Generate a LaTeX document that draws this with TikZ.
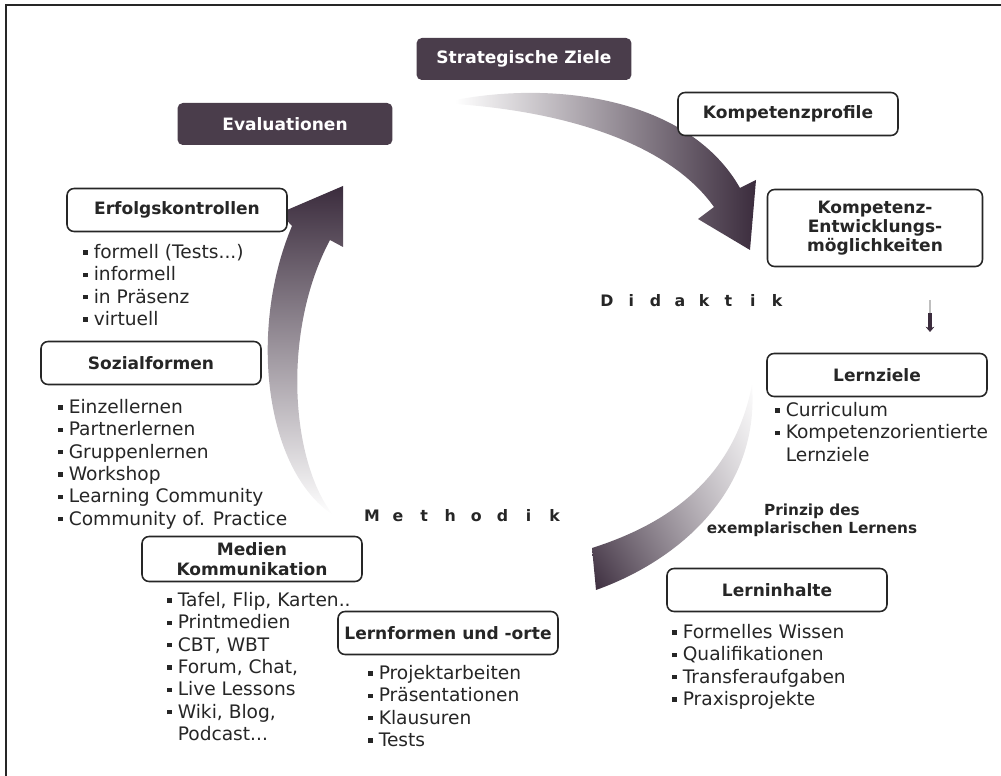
\documentclass[tikz,border=0pt]{standalone}
\usepackage{fontspec}
\setmainfont{DejaVu Sans}
\usetikzlibrary{arrows.meta,shadings}
\definecolor{boxdark}{HTML}{4A3D4B}
\definecolor{arrowdark}{HTML}{3B2C3D}
\definecolor{txt}{HTML}{262626}
\newcommand\sqb{\rule[0.2em]{0.24em}{0.24em}\hspace{0.32em}}
\newcommand\sqi{\hspace*{0.56em}}

\begin{document}
\begin{tikzpicture}[x=0.02cm, y=0.02cm,
    every node/.style = {text=txt},
    topic/.style = {draw=txt, line width=0.9pt, rounded corners=4pt, fill=white,
        minimum width=4.4cm, minimum height=0.86cm, align=center, inner sep=2pt,
        font=\fontsize{9.7}{11}\selectfont\bfseries},
    darktopic/.style = {fill=boxdark, rounded corners=3pt, minimum width=4.3cm,
        minimum height=0.84cm, text=white, font=\fontsize{9.7}{11}\selectfont\bfseries},
    items/.style = {anchor=north west, align=left, inner sep=0pt,
        font=\fontsize{10.6}{12.7}\selectfont},
    spread/.style = {anchor=base, font=\fontsize{9}{10}\selectfont\bfseries, inner sep=0pt}
]
    \useasboundingbox (0,0) rectangle (1001,-776);
    \draw[line width=1pt, black!85] (6,-776) -- (6,-5) -- (1001,-5);

    % cycle arrows
    \shade[left color=white, middle color=arrowdark!45, right color=arrowdark]
        (455,-100) .. controls (560,-80) and (690,-100) .. (740,-188)
        -- (756,-180) -- (750,-250) -- (698,-219) -- (714,-207)
        .. controls (670,-145) and (570,-112) .. (455,-104) -- cycle;
    \shade[top color=arrowdark, middle color=arrowdark!55, bottom color=white]
        (333,-515) .. controls (265,-470) and (248,-330) .. (292,-226)
        -- (280,-213) -- (343,-186) -- (343,-247) -- (330,-240)
        .. controls (282,-330) and (290,-460) .. (333,-515) -- cycle;
    \shade[lower left=arrowdark, upper right=white, upper left=arrowdark!40, lower right=arrowdark!25]
        (752,-385) .. controls (760,-490) and (680,-560) .. (596,-590) -- (592,-548)
        .. controls (680,-520) and (735,-470) .. (752,-385) -- cycle;

    % boxes
    \node[darktopic] (ziele) at (524,-59) {Strategische Ziele};
    \node[darktopic] (eval) at (285,-124) {Evaluationen};
    \node[topic] (profile) at (788,-114) {Kompetenzprofile};
    \node[topic, minimum width=4.3cm, minimum height=1.54cm] (entw) at (875,-228)
        {Kompetenz-\\Entwicklungs-\\möglichkeiten};
    \node[topic] (erfolg) at (177,-210) {Erfolgskontrollen};
    \node[topic] (sozial) at (151,-363) {Sozialformen};
    \node[topic, minimum height=0.9cm] (medien) at (252,-559) {Medien\\Kommunikation};
    \node[topic] (lernformen) at (448,-633) {Lernformen und -orte};
    \node[topic] (lernziele) at (877,-375) {Lernziele};
    \node[topic] (inhalte) at (777,-590) {Lerninhalte};

    % lists
    \node[items] (erfolgL) at (83,-244) {\sqb formell (Tests...)\\ \sqb informell\\ \sqb in Präsenz\\ \sqb virtuell};
    \node[items] (sozialL) at (58,-399) {\sqb Einzellernen\\ \sqb Partnerlernen\\ \sqb Gruppenlernen\\
        \sqb Workshop\\ \sqb Learning Community\\ \sqb Community of. Practice};
    \node[items] (medienL) at (167,-592) {\sqb Tafel, Flip, Karten..\\ \sqb Printmedien\\ \sqb CBT, WBT\\
        \sqb Forum, Chat,\\ \sqb Live Lessons\\ \sqb Wiki, Blog,\\ \sqi Podcast...};
    \node[items] (lernformenL) at (368,-665) {\sqb Projektarbeiten\\ \sqb Präsentationen\\ \sqb Klausuren\\ \sqb Tests};
    \node[items] (lernzieleL) at (775,-402) {\sqb Curriculum\\ \sqb Kompetenzorientierte\\ \sqi Lernziele};
    \node[items] (inhalteL) at (672,-624) {\sqb Formelles Wissen\\ \sqb Qualifikationen\\ \sqb Transferaufgaben\\ \sqb Praxisprojekte};

    \node[align=center, inner sep=0pt, font=\fontsize{8.7}{10}\selectfont\bfseries] (prinzip)
        at (812,-520) {Prinzip des\\exemplarischen Lernens};

    % spaced labels
    \foreach \ch [count=\i from 0] in {D,i,d,a,k,t,i,k}
        \node[spread] (did\i) at (607+24.3*\i,-307) {\ch};
    \foreach \ch [count=\i from 0] in {M,e,t,h,o,d,i,k}
        \node[spread] (met\i) at (372+26.1*\i,-522) {\ch};

    % small mark
    \coordinate (markA) at (930,-300);
    \coordinate (markB) at (930,-313);
    \coordinate (markC) at (930,-332);
    \draw[gray!50, line width=0.6pt] (markA) -- (markB);
    \draw[arrowdark, line width=2.2pt, -{Stealth[length=3pt,width=5pt]}] (markB) -- (markC);
\end{tikzpicture}
\end{document}
